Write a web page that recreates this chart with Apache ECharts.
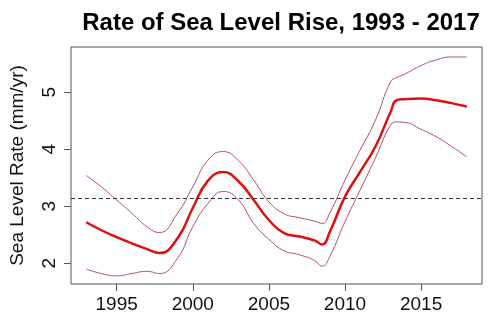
<!DOCTYPE html>
<html>
<head>
<meta charset="utf-8">
<script src="https://cdn.jsdelivr.net/npm/echarts@6/dist/echarts.min.js"></script>
<style>
  html, body { margin: 0; padding: 0; background: #fff; }
  #chart { width: 500px; height: 332px; }
</style>
</head>
<body>
<div id="chart"></div>
<script>
// Smoothed rate of sea level rise with its upper and lower confidence bands
const years = [1993, 1994, 1995, 1996, 1997, 1997.8, 1999, 2000, 2001, 2002, 2003, 2004, 2005, 2006, 2007, 2008, 2008.5, 2009, 2010, 2011, 2012, 2013, 2013.4, 2014, 2015, 2016, 2017, 2018];
const rate  = [2.72, 2.58, 2.46, 2.35, 2.25, 2.18, 2.44, 2.97, 3.45, 3.60, 3.44, 3.11, 2.76, 2.53, 2.47, 2.40, 2.33, 2.55, 3.17, 3.61, 4.05, 4.66, 4.86, 4.88, 4.89, 4.86, 4.81, 4.75];
const upper = [3.54, 3.34, 3.11, 2.88, 2.64, 2.54, 2.88, 3.34, 3.81, 3.96, 3.80, 3.46, 3.08, 2.87, 2.80, 2.74, 2.70, 2.88, 3.46, 3.99, 4.51, 5.19, 5.26, 5.33, 5.47, 5.57, 5.62, 5.62];
const lower = [1.90, 1.82, 1.78, 1.82, 1.86, 1.82, 2.09, 2.64, 3.05, 3.26, 3.11, 2.70, 2.42, 2.22, 2.15, 2.05, 1.95, 2.12, 2.73, 3.29, 3.85, 4.43, 4.48, 4.47, 4.35, 4.22, 4.05, 3.87];
const referenceRate = 3.14;
const xTicks = [1995, 2000, 2005, 2010, 2015];
const yTicks = [2, 3, 4, 5];

const pairs = (vals) => years.map((y, i) => [y, vals[i]]);
const font = '"Liberation Sans", Arial, Helvetica, sans-serif';

const chart = echarts.init(document.getElementById('chart'), null, { renderer: 'canvas' });
chart.setOption({
  animation: false,
  backgroundColor: '#ffffff',
  title: {
    text: 'Rate of Sea Level Rise, 1993 - 2017',
    left: 276,
    textAlign: 'center',
    top: 6,
    textStyle: { fontFamily: font, fontSize: 24, fontWeight: 'bold', color: '#000' }
  },
  grid: {
    left: 70, right: 18, top: 47, bottom: 48,
    show: true, borderColor: '#555', borderWidth: 1, backgroundColor: 'transparent'
  },
  xAxis: {
    type: 'value',
    min: 1992, max: 2019,
    axisLine: { show: false },
    splitLine: { show: false },
    axisTick: { show: true, length: 7, lineStyle: { color: '#555' }, customValues: xTicks },
    axisLabel: {
      margin: 11, fontFamily: font, fontSize: 19, color: '#111', customValues: xTicks,
      formatter: (v) => String(v)
    }
  },
  yAxis: {
    type: 'value',
    min: 1.637, max: 5.795,
    name: 'Sea Level Rate (mm/yr)',
    nameLocation: 'middle',
    nameRotate: 90,
    nameGap: 44,
    nameTextStyle: { fontFamily: font, fontSize: 19, color: '#111' },
    axisLine: { show: false },
    splitLine: { show: false },
    axisTick: { show: true, length: 7, lineStyle: { color: '#555' }, customValues: yTicks },
    axisLabel: { rotate: 90, margin: 12, fontFamily: font, fontSize: 19, color: '#111', customValues: yTicks }
  },
  series: [
    {
      type: 'line', data: pairs(upper), smooth: 0.5, symbol: 'none',
      lineStyle: { color: '#b0506a', width: 1 }
    },
    {
      type: 'line', data: pairs(lower), smooth: 0.5, symbol: 'none',
      lineStyle: { color: '#b0506a', width: 1 }
    },
    {
      type: 'line', data: pairs(rate), smooth: 0.5, symbol: 'none', z: 3,
      lineStyle: { color: '#dd0f0f', width: 2.5 },
      markLine: {
        silent: true, symbol: 'none', label: { show: false },
        lineStyle: { color: '#333', width: 1, type: [4, 3] },
        data: [{ yAxis: referenceRate }]
      }
    }
  ]
});
</script>
</body>
</html>
